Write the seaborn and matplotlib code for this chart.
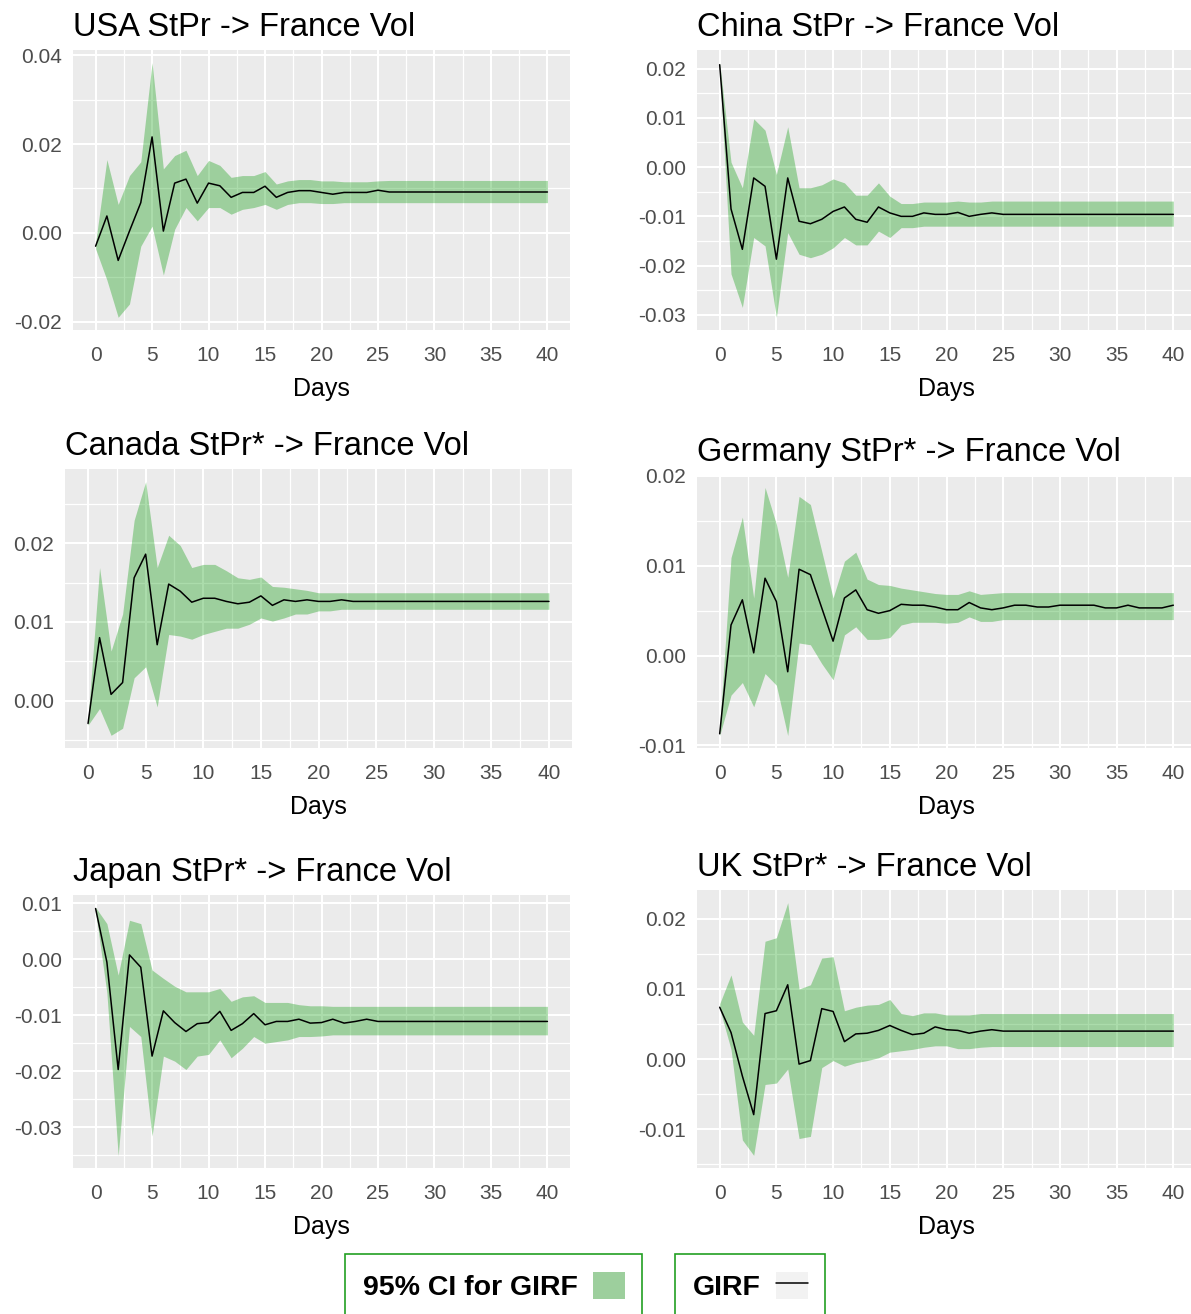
import numpy as np
import pandas as pd
import matplotlib
matplotlib.use("Agg")
import matplotlib.pyplot as plt
from matplotlib.patches import Rectangle
from matplotlib.lines import Line2D
from matplotlib.legend_handler import HandlerTuple
from matplotlib.ticker import MultipleLocator, FormatStrFormatter
import seaborn as sns

# ---------------------------------------------------------------- data
days = list(range(41))

usa_girf = [-0.0030, 0.0038, -0.0062, 0.0004, 0.0068, 0.0216, 0.0004, 0.0112, 0.0121, 0.0067,
            0.0112, 0.0106, 0.0080, 0.0091, 0.0091, 0.0105, 0.0080, 0.0091, 0.0095, 0.0095,
            0.0091, 0.0087, 0.0091, 0.0091, 0.0091, 0.0096, 0.0092, 0.0092, 0.0092, 0.0092,
            0.0092, 0.0092, 0.0092, 0.0092, 0.0092, 0.0092, 0.0092, 0.0092, 0.0092, 0.0092, 0.0092]
usa_upper = [-0.0022, 0.0165, 0.0064, 0.0129, 0.0160, 0.0383, 0.0144, 0.0174, 0.0186, 0.0129,
             0.0163, 0.0152, 0.0125, 0.0129, 0.0129, 0.0138, 0.0110, 0.0117, 0.0120, 0.0120,
             0.0117, 0.0117, 0.0115, 0.0115, 0.0115, 0.0117, 0.0118, 0.0118, 0.0118, 0.0118,
             0.0118, 0.0118, 0.0118, 0.0118, 0.0118, 0.0118, 0.0118, 0.0118, 0.0118, 0.0118, 0.0118]
usa_lower = [-0.0036, -0.0106, -0.0190, -0.0160, -0.0030, 0.0015, -0.0095, 0.0008, 0.0057, 0.0027,
             0.0057, 0.0057, 0.0042, 0.0053, 0.0057, 0.0064, 0.0053, 0.0064, 0.0068, 0.0068,
             0.0066, 0.0066, 0.0068, 0.0068, 0.0068, 0.0068, 0.0068, 0.0068, 0.0068, 0.0068,
             0.0068, 0.0068, 0.0068, 0.0068, 0.0068, 0.0068, 0.0068, 0.0068, 0.0068, 0.0068, 0.0068]

china_girf = [0.0208, -0.0085, -0.0167, -0.0022, -0.0039, -0.0187, -0.0022, -0.0110, -0.0115, -0.0106,
              -0.0090, -0.0081, -0.0106, -0.0112, -0.0081, -0.0093, -0.0100, -0.0100, -0.0093, -0.0096,
              -0.0096, -0.0092, -0.0100, -0.0096, -0.0093, -0.0096, -0.0096, -0.0096, -0.0096, -0.0096,
              -0.0096, -0.0096, -0.0096, -0.0096, -0.0096, -0.0096, -0.0096, -0.0096, -0.0096, -0.0096, -0.0096]
china_upper = [0.0212, 0.0010, -0.0042, 0.0098, 0.0075, -0.0015, 0.0082, -0.0042, -0.0042, -0.0036,
               -0.0024, -0.0032, -0.0057, -0.0057, -0.0032, -0.0059, -0.0074, -0.0074, -0.0071, -0.0071,
               -0.0071, -0.0069, -0.0071, -0.0071, -0.0069, -0.0069, -0.0069, -0.0069, -0.0069, -0.0069,
               -0.0069, -0.0069, -0.0069, -0.0069, -0.0069, -0.0069, -0.0069, -0.0069, -0.0069, -0.0069, -0.0069]
china_lower = [0.0200, -0.0217, -0.0285, -0.0143, -0.0160, -0.0305, -0.0133, -0.0177, -0.0184, -0.0177,
               -0.0164, -0.0143, -0.0158, -0.0158, -0.0130, -0.0143, -0.0123, -0.0123, -0.0120, -0.0120,
               -0.0120, -0.0120, -0.0120, -0.0120, -0.0120, -0.0120, -0.0120, -0.0120, -0.0120, -0.0120,
               -0.0120, -0.0120, -0.0120, -0.0120, -0.0120, -0.0120, -0.0120, -0.0120, -0.0120, -0.0120, -0.0120]

canada_girf = [-0.0029, 0.0080, 0.0008, 0.0023, 0.0156, 0.0186, 0.0071, 0.0148, 0.0139, 0.0125,
               0.0130, 0.0130, 0.0126, 0.0123, 0.0125, 0.0133, 0.0121, 0.0128, 0.0126, 0.0128,
               0.0126, 0.0126, 0.0128, 0.0126, 0.0126, 0.0126, 0.0126, 0.0126, 0.0126, 0.0126,
               0.0126, 0.0126, 0.0126, 0.0126, 0.0126, 0.0126, 0.0126, 0.0126, 0.0126, 0.0126, 0.0126]
canada_upper = [-0.0023, 0.0169, 0.0063, 0.0110, 0.0229, 0.0278, 0.0169, 0.0210, 0.0197, 0.0169,
                0.0173, 0.0173, 0.0165, 0.0156, 0.0154, 0.0157, 0.0145, 0.0144, 0.0142, 0.0140,
                0.0137, 0.0137, 0.0137, 0.0137, 0.0137, 0.0137, 0.0137, 0.0137, 0.0137, 0.0137,
                0.0137, 0.0137, 0.0137, 0.0137, 0.0137, 0.0137, 0.0137, 0.0137, 0.0137, 0.0137, 0.0137]
canada_lower = [-0.0031, -0.0010, -0.0044, -0.0035, 0.0029, 0.0043, -0.0008, 0.0084, 0.0082, 0.0078,
                0.0084, 0.0088, 0.0092, 0.0092, 0.0097, 0.0105, 0.0101, 0.0105, 0.0110, 0.0110,
                0.0114, 0.0114, 0.0116, 0.0116, 0.0116, 0.0116, 0.0116, 0.0116, 0.0116, 0.0116,
                0.0116, 0.0116, 0.0116, 0.0116, 0.0116, 0.0116, 0.0116, 0.0116, 0.0116, 0.0116, 0.0116]

germany_girf = [-0.0087, 0.0034, 0.0062, 0.0003, 0.0086, 0.0060, -0.0018, 0.0096, 0.0090, 0.0053,
                0.0016, 0.0064, 0.0073, 0.0051, 0.0047, 0.0050, 0.0057, 0.0056, 0.0056, 0.0054,
                0.0051, 0.0051, 0.0059, 0.0053, 0.0051, 0.0053, 0.0056, 0.0056, 0.0054, 0.0054,
                0.0056, 0.0056, 0.0056, 0.0056, 0.0053, 0.0053, 0.0056, 0.0053, 0.0053, 0.0053, 0.0056]
germany_upper = [-0.0081, 0.0109, 0.0154, 0.0064, 0.0187, 0.0146, 0.0087, 0.0177, 0.0168, 0.0116,
                 0.0064, 0.0105, 0.0115, 0.0085, 0.0079, 0.0078, 0.0075, 0.0073, 0.0071, 0.0069,
                 0.0068, 0.0068, 0.0072, 0.0068, 0.0069, 0.0070, 0.0070, 0.0070, 0.0070, 0.0070,
                 0.0070, 0.0070, 0.0070, 0.0070, 0.0070, 0.0070, 0.0070, 0.0070, 0.0070, 0.0070, 0.0070]
germany_lower = [-0.0089, -0.0044, -0.0030, -0.0057, -0.0020, -0.0033, -0.0089, 0.0014, 0.0012, -0.0009,
                 -0.0027, 0.0023, 0.0032, 0.0018, 0.0018, 0.0020, 0.0034, 0.0037, 0.0037, 0.0037,
                 0.0036, 0.0037, 0.0043, 0.0038, 0.0038, 0.0040, 0.0040, 0.0040, 0.0040, 0.0040,
                 0.0040, 0.0040, 0.0040, 0.0040, 0.0040, 0.0040, 0.0040, 0.0040, 0.0040, 0.0040, 0.0040]

japan_girf = [0.0091, -0.0005, -0.0197, 0.0008, -0.0014, -0.0173, -0.0092, -0.0113, -0.0129, -0.0115,
              -0.0113, -0.0093, -0.0127, -0.0115, -0.0097, -0.0117, -0.0111, -0.0111, -0.0107, -0.0114,
              -0.0113, -0.0107, -0.0114, -0.0111, -0.0107, -0.0111, -0.0111, -0.0111, -0.0111, -0.0111,
              -0.0111, -0.0111, -0.0111, -0.0111, -0.0111, -0.0111, -0.0111, -0.0111, -0.0111, -0.0111, -0.0111]
japan_upper = [0.0093, 0.0064, -0.0028, 0.0070, 0.0064, -0.0019, -0.0034, -0.0048, -0.0058, -0.0058,
               -0.0058, -0.0052, -0.0075, -0.0067, -0.0065, -0.0077, -0.0077, -0.0077, -0.0081, -0.0083,
               -0.0083, -0.0084, -0.0084, -0.0084, -0.0084, -0.0084, -0.0084, -0.0084, -0.0084, -0.0084,
               -0.0084, -0.0084, -0.0084, -0.0084, -0.0084, -0.0084, -0.0084, -0.0084, -0.0084, -0.0084, -0.0084]
japan_lower = [0.0086, -0.0060, -0.0351, -0.0120, -0.0138, -0.0316, -0.0173, -0.0182, -0.0197, -0.0173,
               -0.0170, -0.0144, -0.0176, -0.0159, -0.0138, -0.0150, -0.0147, -0.0144, -0.0138, -0.0138,
               -0.0137, -0.0135, -0.0135, -0.0135, -0.0135, -0.0135, -0.0135, -0.0135, -0.0135, -0.0135,
               -0.0135, -0.0135, -0.0135, -0.0135, -0.0135, -0.0135, -0.0135, -0.0135, -0.0135, -0.0135, -0.0135]

uk_girf = [0.0074, 0.0038, -0.0024, -0.0079, 0.0065, 0.0069, 0.0106, -0.0007, -0.0002, 0.0072,
           0.0068, 0.0025, 0.0036, 0.0037, 0.0041, 0.0048, 0.0041, 0.0035, 0.0037, 0.0046,
           0.0042, 0.0041, 0.0037, 0.0040, 0.0042, 0.0040, 0.0040, 0.0040, 0.0040, 0.0040,
           0.0040, 0.0040, 0.0040, 0.0040, 0.0040, 0.0040, 0.0040, 0.0040, 0.0040, 0.0040, 0.0040]
uk_upper = [0.0079, 0.0120, 0.0053, 0.0034, 0.0168, 0.0173, 0.0223, 0.0100, 0.0106, 0.0144,
            0.0146, 0.0069, 0.0074, 0.0077, 0.0078, 0.0085, 0.0065, 0.0062, 0.0066, 0.0066,
            0.0063, 0.0063, 0.0063, 0.0065, 0.0065, 0.0065, 0.0065, 0.0065, 0.0065, 0.0065,
            0.0065, 0.0065, 0.0065, 0.0065, 0.0065, 0.0065, 0.0065, 0.0065, 0.0065, 0.0065, 0.0065]
uk_lower = [0.0072, 0.0014, -0.0115, -0.0137, -0.0036, -0.0034, -0.0014, -0.0113, -0.0110, -0.0012,
            -0.0002, -0.0010, -0.0005, -0.0002, 0.0002, 0.0010, 0.0012, 0.0014, 0.0017, 0.0019,
            0.0019, 0.0015, 0.0015, 0.0017, 0.0018, 0.0018, 0.0018, 0.0018, 0.0018, 0.0018,
            0.0018, 0.0018, 0.0018, 0.0018, 0.0018, 0.0018, 0.0018, 0.0018, 0.0018, 0.0018, 0.0018]

titles = ["USA StPr -> France Vol", "China StPr -> France Vol",
          "Canada StPr* -> France Vol", "Germany StPr* -> France Vol",
          "Japan StPr* -> France Vol", "UK StPr* -> France Vol"]
y_steps = [0.02, 0.01, 0.01, 0.01, 0.01, 0.01]
series = [(usa_girf, usa_lower, usa_upper), (china_girf, china_lower, china_upper),
          (canada_girf, canada_lower, canada_upper), (germany_girf, germany_lower, germany_upper),
          (japan_girf, japan_lower, japan_upper), (uk_girf, uk_lower, uk_upper)]

# ---------------------------------------------------------------- style
sns.set_theme(style="darkgrid", rc={
    "axes.facecolor": "#EBEBEB",
    "grid.color": "white",
    "axes.edgecolor": "none",
    "axes.unicode_minus": False,
})
plt.rcParams["font.family"] = ["Liberation Sans", "DejaVu Sans"]

CI_FILL = "#009600"
W, H = 1191, 1314
fig = plt.figure(figsize=(W / 100, H / 100), dpi=100)

# panel boxes in pixels: left, top, right, bottom
boxes = [(73, 50, 570, 330), (697, 50, 1196, 330),
         (65, 469, 572, 748), (697, 475, 1196, 748),
         (73, 895, 570, 1168), (697, 890, 1196, 1168)]


def add_px_axes(l, t, r, b):
    return fig.add_axes([l / W, 1 - b / H, (r - l) / W, (b - t) / H])


for box, title, step, (girf, lower, upper) in zip(boxes, titles, y_steps, series):
    ax = add_px_axes(*box)
    df = pd.DataFrame({"Days": days, "girf": girf, "lower": lower, "upper": upper})

    ax.fill_between(df["Days"], df["lower"], df["upper"], color=CI_FILL,
                    alpha=0.33, linewidth=0, zorder=2)
    sns.lineplot(data=df, x="Days", y="girf", ax=ax, color="black",
                 linewidth=1.1, zorder=3)

    lo, hi = min(lower), max(upper)
    span = hi - lo
    ax.set_ylim(lo - 0.05 * span, hi + 0.05 * span)
    ax.set_xlim(-2, 42)

    ax.xaxis.set_major_locator(MultipleLocator(5))
    ax.xaxis.set_minor_locator(MultipleLocator(2.5))
    ax.yaxis.set_major_locator(MultipleLocator(step))
    ax.yaxis.set_minor_locator(MultipleLocator(step / 2))
    ax.yaxis.set_major_formatter(FormatStrFormatter("%.2f"))
    ax.grid(which="major", color="white", linewidth=1.5)
    ax.grid(which="minor", color="white", linewidth=0.9)
    ax.set_axisbelow(True)
    for s in ax.spines.values():
        s.set_visible(False)

    ax.tick_params(which="major", length=4.3, width=1.1, color="#333333",
                   labelcolor="#4D4D4D", labelsize=15, pad=3.5)
    ax.tick_params(which="minor", length=0)
    ax.tick_params(axis="x", pad=7)

    ax.set_xlabel("Days", fontsize=18, color="black", labelpad=9)
    ax.set_ylabel("")
    ax.set_title(title, loc="left", fontsize=23.5, color="black", pad=10)

# ---------------------------------------------------------------- legends
bg_patch = Rectangle((0, 0), 1, 1, facecolor="#EBEBEB", edgecolor="none")
ci_patch = Rectangle((0, 0), 1, 1, facecolor=CI_FILL, alpha=0.33, edgecolor="none")
key_bg = Rectangle((0, 0), 1, 1, facecolor="#F2F2F2", edgecolor="none")
girf_line = Line2D([0], [0], color="black", linewidth=1.1)

common = dict(loc="upper left", markerfirst=False, frameon=True, fancybox=False,
              prop={"weight": "bold", "size": 20.5}, handlelength=1.1, handleheight=1.1,
              handletextpad=0.55, borderpad=0.62, borderaxespad=0, labelcolor="black",
              handler_map={tuple: HandlerTuple(ndivide=1, pad=0)})

leg1 = fig.legend(handles=[(bg_patch, ci_patch)], labels=["95% CI for GIRF"],
                  bbox_to_anchor=(345 / W, 1 - 1254 / H), **common)
leg2 = fig.legend(handles=[(key_bg, girf_line)], labels=["GIRF"],
                  bbox_to_anchor=(675 / W, 1 - 1254 / H), **common)
for leg in (leg1, leg2):
    fr = leg.get_frame()
    fr.set_edgecolor("#22A022")
    fr.set_linewidth(1.2)
    fr.set_facecolor("white")
    fr.set_alpha(1)

fig.savefig("out.png", dpi=100)
